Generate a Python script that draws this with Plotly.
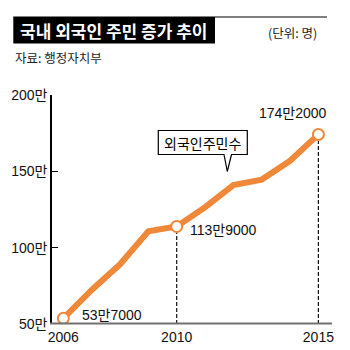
import plotly.graph_objects as go

years = [2006, 2007, 2008, 2009, 2010, 2011, 2012, 2013, 2014, 2015]
residents = [53.7, 72.3, 89.1, 110.7, 113.9, 126.5, 141.0, 144.6, 156.9, 174.2]  # 만 명
labeled_years = [2006, 2010, 2015]
point_labels = ["53만7000", "113만9000", "174만2000"]
y_ticks = [50, 100, 150, 200]
y_tick_text = ["50만", "100만", "150만", "200만"]
x_ticks = [2006, 2010, 2015]

ORANGE = "#F0883A"
FONT = "Liberation Sans, Noto Sans CJK KR, sans-serif"
KFONT = "Noto Sans CJK KR, sans-serif"

W, H = 350, 350
L, R, T, B = 52, 18, 95, 26
PW, PH = W - L - R, H - T - B


def px(x):
    return (x - L) / PW


def py(y):
    return (H - B - y) / PH


lab_vals = [residents[years.index(y)] for y in labeled_years]

fig = go.Figure()
fig.add_trace(go.Scatter(x=years, y=residents, mode="lines",
                         line=dict(color=ORANGE, width=6), hoverinfo="skip"))
fig.add_trace(go.Scatter(x=labeled_years, y=lab_vals, mode="markers",
                         marker=dict(size=11, color="white",
                                     line=dict(color=ORANGE, width=2)),
                         hoverinfo="skip"))

shapes = []
# dashed drop lines at 2010 and 2015
for yr, v in zip(labeled_years[1:], lab_vals[1:]):
    shapes.append(dict(type="line", xref="x", yref="y", x0=yr, x1=yr, y0=y_ticks[0], y1=v,
                       line=dict(color="#111", width=1.2, dash="4px,2px"), layer="below"))
# title bar
shapes.append(dict(type="rect", xref="paper", yref="paper", x0=px(13.3), x1=px(215),
                   y0=py(43.5), y1=py(17), fillcolor="black", line=dict(width=0)))
shapes.append(dict(type="line", xref="paper", yref="paper", x0=px(13.3), x1=px(327),
                   y0=py(17), y1=py(17), line=dict(color="black", width=1.2)))
# gray baseline
shapes.append(dict(type="line", xref="paper", yref="paper", x0=px(50), x1=px(332),
                   y0=py(323.5), y1=py(323.5), line=dict(color="#707070", width=2)))
# callout box
bx0, bx1, by0, by1 = 158.3, 247.3, 130.5, 154.5
pts = [(bx0, by0), (bx1, by0), (bx1, by1), (231.5, by1), (227.3, 171.5), (224.0, by1), (bx0, by1)]
path = "M " + " L ".join(f"{px(a):.5f},{py(b):.5f}" for a, b in pts) + " Z"
shapes.append(dict(type="path", xref="paper", yref="paper", path=path,
                   fillcolor="white", line=dict(color="black", width=1.2)))

annotations = [
    dict(xref="paper", yref="paper", x=px(18), y=py(30.5), xanchor="left", yanchor="middle",
         text="<b>국내 외국인 주민 증가 추이</b>", showarrow=False,
         font=dict(family=KFONT, size=17, color="white")),
    dict(xref="paper", yref="paper", x=px(318.5), y=py(32.5), xanchor="right", yanchor="middle",
         text="(단위: 명)", showarrow=False, font=dict(family=KFONT, size=12.5, color="#222")),
    dict(xref="paper", yref="paper", x=px(12.5), y=py(57), xanchor="left", yanchor="middle",
         text="자료: 행정자치부", showarrow=False, font=dict(family=KFONT, size=12.5, color="#222")),
    dict(xref="paper", yref="paper", x=px((bx0 + bx1) / 2), y=py((by0 + by1) / 2),
         xanchor="center", yanchor="middle", text="외국인주민수", showarrow=False,
         font=dict(family=KFONT, size=14, color="black")),
]
offsets = [(17, 3.5, "left"), (11.5, -4, "left"), (-25, 21, "center")]
for yr, v, t, (dx, dy, anc) in zip(labeled_years, lab_vals, point_labels, offsets):
    annotations.append(dict(x=yr, y=v, xref="x", yref="y", text=t, showarrow=False,
                            xanchor=anc, yanchor="middle", xshift=dx, yshift=dy,
                            font=dict(family=FONT, size=14, color="#111")))

fig.update_layout(
    width=W, height=H, margin=dict(l=L, r=R, t=T, b=B),
    paper_bgcolor="white", plot_bgcolor="white", showlegend=False,
    font=dict(family=FONT, size=14, color="#111"),
    xaxis=dict(range=[2005.6, 2015.48], tickvals=x_ticks, ticktext=[str(v) for v in x_ticks],
               showgrid=False, zeroline=False, showline=False, ticks="",
               automargin=False, ticklabelstandoff=3,
               tickfont=dict(family=FONT, size=14, color="#111")),
    yaxis=dict(range=[50, 200], tickvals=y_ticks, ticktext=y_tick_text,
               showgrid=False, zeroline=False, showline=True, linecolor="black", linewidth=1.5,
               ticks="inside", ticklen=6, tickwidth=1.2, tickcolor="black",
               automargin=False,
               tickfont=dict(family=FONT, size=14, color="#111")),
    shapes=shapes, annotations=annotations,
)

fig.write_html("out.html")
